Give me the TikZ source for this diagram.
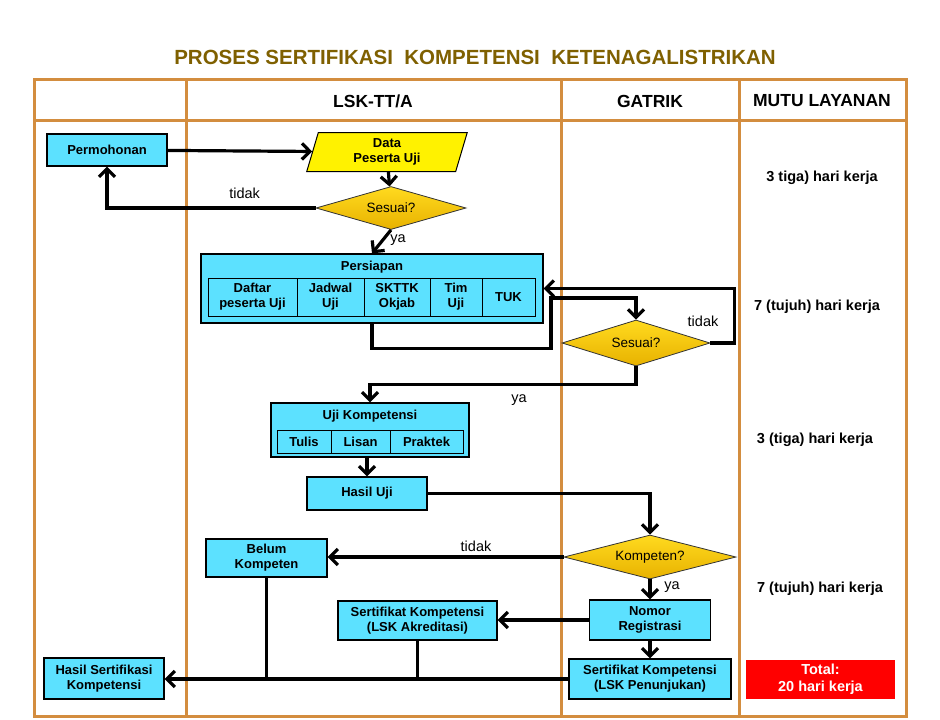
\documentclass[tikz,border=0pt]{standalone}
\usepackage{fontspec}
\setmainfont{Liberation Sans}
\usetikzlibrary{shapes.geometric,arrows.meta}
\definecolor{lane}{HTML}{D38D3F}
\definecolor{judul}{HTML}{7F6000}
\definecolor{kotak}{HTML}{5CE1FF}
\definecolor{emasatas}{HTML}{FFDA1F}
\definecolor{emasbawah}{HTML}{E8B200}
\begin{document}
\begin{tikzpicture}[x=1pt,y=-1pt,
 box/.style={draw,fill=kotak,line width=1.2pt,align=center,inner sep=0pt,font=\fontsize{13}{15}\selectfont\bfseries},
 cell/.style={box,line width=1pt},
 tanya/.style={diamond,aspect=3.5,draw=black!80,line width=0.8pt,top color=emasatas,bottom color=emasbawah,inner sep=0pt,font=\fontsize{13.5}{15}\selectfont},
 lbl/.style={font=\fontsize{14.5}{16}\selectfont},
 waktu/.style={font=\fontsize{14.5}{16}\selectfont\bfseries},
 head/.style={font=\fontsize{17.5}{20}\selectfont\bfseries},
 panah/.style={line width=3.2pt,-{Straight Barb[length=8pt,width=16pt]}},
 garis/.style={line width=3.2pt}]
\fill[white] (0,0) rectangle (940,720);
\useasboundingbox (0,0) rectangle (940,720);
\node[font=\fontsize{20.5}{24}\selectfont\bfseries,text=judul] (judul) at (475,57) {PROSES SERTIFIKASI\ \ KOMPETENSI\ \ KETENAGALISTRIKAN};
\draw[lane,line width=3pt] (34,79) rectangle (906,716) (34,120) -- (906,120)
 (186,79) -- (186,716) (561,79) -- (561,716) (739,79) -- (739,716);
\node[head] (lsk) at (373,101) {LSK-TT/A};
\node[head] (gatrik) at (650,101) {GATRIK};
\node[head] (mutu) at (822,101) {MUTU LAYANAN};

\node[box,minimum width=120,minimum height=32] (permohonan) at (107,150) {Permohonan};
\node[trapezium,trapezium left angle=78,trapezium right angle=102,trapezium stretches=true,draw,line width=1pt,fill=yellow,
 minimum width=161,minimum height=39,inner sep=0pt,align=center,font=\fontsize{13}{15}\selectfont\bfseries] (data) at (387,152) {Data\\Peserta Uji};
\node[tanya,minimum width=150,minimum height=43] (sesuai1) at (391,208) {Sesuai?};

\node[box,minimum width=342,minimum height=69] (persiapan) at (372,288.5) {};
\node[font=\fontsize{13}{15}\selectfont\bfseries] (persiapanjudul) at (372,267) {Persiapan};
\node[cell,minimum width=89,minimum height=38] (daftar) at (252.5,297) {Daftar\\peserta Uji};
\node[cell,minimum width=67,minimum height=38] (jadwal) at (330.5,297) {Jadwal\\Uji};
\node[cell,minimum width=66,minimum height=38] (skttk) at (397,297) {SKTTK\\Okjab};
\node[cell,minimum width=52,minimum height=38] (tim) at (456,297) {Tim\\Uji};
\node[cell,minimum width=53,minimum height=38] (tuk) at (508.5,297) {TUK};
\node[tanya,minimum width=148,minimum height=46] (sesuai2) at (636,343) {Sesuai?};

\node[box,minimum width=198,minimum height=54] (ujikomp) at (370,430) {};
\node[font=\fontsize{13}{15}\selectfont\bfseries] (ujikompjudul) at (370,416) {Uji Kompetensi};
\node[cell,minimum width=54,minimum height=23] (tulis) at (304,441.5) {Tulis};
\node[cell,minimum width=59,minimum height=23] (lisan) at (360.5,441.5) {Lisan};
\node[cell,minimum width=73,minimum height=23] (praktek) at (426.5,441.5) {Praktek};
\node[box,minimum width=120,minimum height=33] (hasiluji) at (367,493.5) {Hasil Uji};

\node[tanya,minimum width=172,minimum height=44] (kompeten) at (650,557) {Kompeten?};
\node[box,minimum width=121,minimum height=38] (belum) at (266.5,558) {Belum\\Kompeten};
\node[box,minimum width=121,minimum height=40] (nomor) at (650,620) {Nomor\\Registrasi};
\node[box,minimum width=159,minimum height=39] (akred) at (417.5,620.5) {Sertifikat Kompetensi\\(LSK Akreditasi)};
\node[box,minimum width=162,minimum height=40] (penunjukan) at (650,679) {Sertifikat Kompetensi\\(LSK Penunjukan)};
\node[box,minimum width=120,minimum height=41] (hasilsert) at (104,678.5) {Hasil Sertifikasi\\Kompetensi};

\node[waktu] (waktu1) at (822,178) {3 tiga) hari kerja};
\node[waktu] (waktu2) at (817,307) {7 (tujuh) hari kerja};
\node[waktu] (waktu3) at (815,440) {3 (tiga) hari kerja};
\node[waktu] (waktu4) at (820,589) {7 (tujuh) hari kerja};
\node[fill=red,text=white,align=center,minimum width=149,minimum height=39,inner sep=0pt,font=\fontsize{14.5}{17}\selectfont\bfseries] (total) at (820.5,679.5) {Total:\\20 hari kerja};

\draw[panah] (permohonan) -- (data);
\draw[panah] (data) -- (sesuai1);
\draw[panah] (sesuai1.west) -| (permohonan.south) node[lbl,pos=0.17,above=4pt] {tidak};
\draw[panah] (sesuai1.south) -- (persiapan.north) node[lbl,pos=0.45,right=3pt] {ya};
\draw[panah] (persiapan.south) -- ++(0,25) -| (551,298) -| (sesuai2.north);
\draw[panah] (sesuai2.east) -- ++(24,0) |- (persiapan.east);
\node[lbl] (tidak2) at (703,321) {tidak};
\draw[panah] (sesuai2.south) -- ++(0,18) -| (ujikomp.north);
\node[lbl] (ya2) at (519,400) {ya};
\draw[panah] (hasiluji.north |- ujikomp.south) -- (hasiluji.north);
\draw[panah] (hasiluji.east) -| (kompeten.north);
\draw[panah] (kompeten.west) -- (kompeten.west -| belum.east);
\node[lbl] (tidak3) at (476,546) {tidak};
\draw[panah] (kompeten.south) -- (nomor.north);
\node[lbl] (ya3) at (672,587) {ya};
\draw[panah] (nomor.west) -- (nomor.west -| akred.east);
\draw[panah] (nomor.south) -- (penunjukan.north);
\draw[panah] (penunjukan.west) -- (penunjukan.west -| hasilsert.east);
\draw[garis] (belum.south) -- (belum.south |- penunjukan.west);
\draw[garis] (akred.south) -- (akred.south |- penunjukan.west);
\end{tikzpicture}
\end{document}
